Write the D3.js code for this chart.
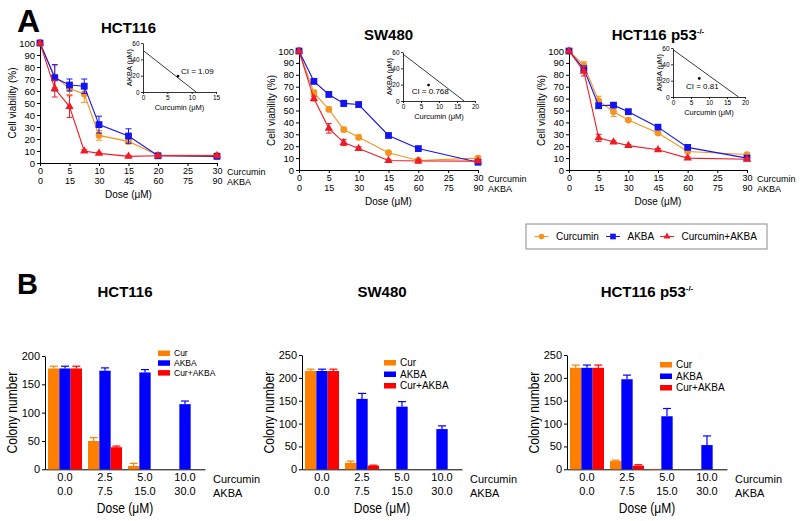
<!DOCTYPE html>
<html><head><meta charset="utf-8">
<script src="https://cdn.jsdelivr.net/npm/d3@7"></script>
<style>
body{margin:0;background:#fff}
svg{display:block}
text{font-family:"Liberation Sans",Arial,Helvetica,sans-serif;fill:#000}
</style>
</head><body><svg id="c" width="800" height="521"></svg>
<script>
// ---------------- DATA ----------------
const doseCur = [0, 2.5, 5, 7.5, 10, 15, 20, 30];
const curTicks = [0, 5, 10, 15, 20, 25, 30];
const akbaTicks = [0, 15, 30, 45, 60, 75, 90];
const viabTicks = [0, 10, 20, 30, 40, 50, 60, 70, 80, 90, 100];
const seriesNames = ["Curcumin", "AKBA", "Curcumin+AKBA"];

// Panel A: cell viability (%)
const hctCur = [100, 72, 62, 57.5, 23, 18, 6.5, 6.5];
const hctCurErr = [0, 9, 5, 7, 4, 2, 1, 1];
const hctAkba = [100, 71, 65, 64, 32, 22.5, 6, 5.5];
const hctAkbaErr = [0, 11, 5, 6, 7, 6, 1, 1];
const hctCombo = [100, 62, 47, 10, 8, 5.5, 6, 6];
const hctComboErr = [0, 7, 9, 1, 1, 1, 1, 1];

const swCur = [100, 65, 51, 34, 27.5, 14.5, 8, 10];
const swCurErr = [0, 2, 2, 2, 2, 1, 2, 1.5];
const swAkba = [100, 74.5, 63.5, 56, 55, 29, 18, 6.5];
const swAkbaErr = [0, 2, 2, 2.5, 2, 1, 1, 1];
const swCombo = [100, 60, 35, 23, 18, 8, 7.5, 7.5];
const swComboErr = [0, 2, 4, 2.5, 1.5, 1, 1.5, 1];

const p53Cur = [100, 88, 58, 49, 42, 31, 15.5, 13];
const p53CurErr = [0, 3, 4, 4, 1, 1, 1, 1];
const p53Akba = [100, 85, 54, 54.5, 49, 36, 19, 10];
const p53AkbaErr = [0, 2, 2, 1.5, 2, 1, 1, 1];
const p53Combo = [100, 83, 27, 23.5, 20.5, 17, 10, 9];
const p53ComboErr = [0, 4, 3, 1, 1, 1, 1, 1];

// Isobologram insets (Curcumin µM, AKBA µM)
const hctIsoLine = [[0, 51], [10.9, 0]];
const hctCIPoint = [7.2, 19.5];
const swIsoLine = [[0, 57.5], [17, 0]];
const swCIPoint = [7.1, 19.5];
const p53IsoLine = [[0, 58], [18.2, 0]];
const p53CIPoint = [7.3, 22.8];
const ciLabels = ["CI = 1.09", "CI = 0.768", "CI = 0.81"];
const isoTicksY = [0, 20, 40, 60];
const hctIsoTicksX = [0, 5, 10, 15];
const isoTicksX = [0, 5, 10, 15, 20];

// Panel B: colony number
const colCurLabels = ["0.0", "2.5", "5.0", "10.0"];
const colAkbaLabels = ["0.0", "7.5", "15.0", "30.0"];
const colSeries = ["Cur", "AKBA", "Cur+AKBA"];

const hctColCur = [178, 50, 6, 0];
const hctColCurErr = [4, 6, 4.5, 0];
const hctColAkba = [178, 174, 171, 115];
const hctColAkbaErr = [4, 5, 5, 5.5];
const hctColCombo = [178, 39, 0, 0];
const hctColComboErr = [4, 2, 0, 0];

const swColCur = [215, 14, 0, 0];
const swColCurErr = [4, 4, 0, 0];
const swColAkba = [215, 154, 137, 88];
const swColAkbaErr = [4, 12, 11, 7];
const swColCombo = [215, 8, 0, 0];
const swColComboErr = [4, 1, 0, 0];

const p53ColCur = [222, 18, 1, 0];
const p53ColCurErr = [6, 2, 0, 0];
const p53ColAkba = [222, 197, 116, 53];
const p53ColAkbaErr = [6, 9, 17, 20];
const p53ColCombo = [222, 8, 0, 0];
const p53ColComboErr = [6, 2, 0, 0];

// ---------------- STYLE ----------------
const lineColors = ["#F7941D", "#1414F0", "#EE1C24"];
const barColors = ["#FF8000", "#0000FF", "#FF0000"];
const shapes = [d3.symbolCircle, d3.symbolSquare, d3.symbolTriangle];
const shapeSizes = [36, 46, 30];

const svg = d3.select("#c");

function styleAxis(sel, fs) {
  sel.attr("font-family", null).attr("font-size", null);
  sel.selectAll("text").style("font-size", fs + "px").attr("fill", "#000");
  sel.selectAll("line").attr("stroke", "#000");
  sel.select(".domain").attr("stroke", "#000");
}

function titleText(g, x, y, label, sup) {
  const t = g.append("text").attr("x", x).attr("y", y).attr("text-anchor", "middle")
    .style("font-size", "15px").style("font-weight", "bold").text(label);
  if (sup) {
    t.append("tspan").attr("dy", -6).style("font-size", "8px").text(sup);
  }
}

// ---------------- PANEL A ----------------
function viabilityPanel(p) {
  const g = svg.append("g");
  const x = d3.scaleLinear().domain([0, 30]).range([p.x0, p.x1]);
  const y = d3.scaleLinear().domain([0, 100]).range([p.yb, p.yt]);

  const ya = g.append("g").attr("transform", `translate(${p.x0},0)`)
    .call(d3.axisLeft(y).tickValues(viabTicks).tickSize(3).tickSizeOuter(0).tickPadding(2));
  styleAxis(ya, 9.5);
  const xa = g.append("g").attr("transform", `translate(0,${p.yb})`)
    .call(d3.axisBottom(x).tickValues(curTicks).tickSize(3).tickSizeOuter(0).tickPadding(2));
  styleAxis(xa, 9);
  const xa2 = g.append("g").attr("transform", `translate(0,${p.yb + 10})`)
    .call(d3.axisBottom(x).tickValues(curTicks).tickSize(0).tickPadding(5)
      .tickFormat((d, i) => akbaTicks[i]));
  xa2.select(".domain").remove();
  styleAxis(xa2, 9);

  g.append("text").attr("x", p.x1 + 10).attr("y", p.yb + 11.5).style("font-size", "9px").text("Curcumin");
  g.append("text").attr("x", p.x1 + 10).attr("y", p.yb + 21.5).style("font-size", "9px").text("AKBA");
  g.append("text").attr("x", (p.x0 + p.x1) / 2).attr("y", p.yb + 35).attr("text-anchor", "middle")
    .style("font-size", "10px").text("Dose (\u03BCM)");
  g.append("text").attr("transform", `translate(${p.x0 - 24},${(p.yb + p.yt) / 2}) rotate(-90)`)
    .attr("text-anchor", "middle").style("font-size", "10px").text("Cell viability (%)");

  titleText(g, (p.x0 + p.x1) / 2, p.titleY, p.title, p.sup);

  const line = d3.line().x((d, i) => x(doseCur[i])).y(d => y(d));
  p.series.forEach((s, k) => {
    const c = lineColors[k];
    const sg = g.append("g");
    sg.append("path").datum(s.vals).attr("d", line).attr("fill", "none").attr("stroke", c).attr("stroke-width", 1.1);
    s.vals.forEach((v, i) => {
      const e = s.errs[i];
      if (e > 0) {
        const cx = x(doseCur[i]);
        sg.append("line").attr("x1", cx).attr("x2", cx).attr("y1", y(v - e)).attr("y2", y(v + e)).attr("stroke", c).attr("stroke-width", 1);
        [v - e, v + e].forEach(w => sg.append("line").attr("x1", cx - 3).attr("x2", cx + 3).attr("y1", y(w)).attr("y2", y(w)).attr("stroke", c).attr("stroke-width", 1));
      }
    });
    sg.selectAll("path.m").data(s.vals).enter().append("path").attr("class", "m")
      .attr("transform", (d, i) => `translate(${x(doseCur[i])},${y(d)})`)
      .attr("d", d3.symbol().type(shapes[k]).size(shapeSizes[k])).attr("fill", c);
  });

  // inset isobologram
  const ins = p.inset;
  const ix = d3.scaleLinear().domain([0, ins.xmax]).range([ins.x0, ins.x1]);
  const iy = d3.scaleLinear().domain([0, 60]).range([ins.yb, ins.yt]);
  const iya = g.append("g").attr("transform", `translate(${ins.x0},0)`)
    .call(d3.axisLeft(iy).tickValues(isoTicksY).tickSize(2).tickSizeOuter(0).tickPadding(1.5));
  styleAxis(iya, 6.5);
  iya.selectAll("line,path").attr("stroke-width", 0.8);
  const ixa = g.append("g").attr("transform", `translate(0,${ins.yb})`)
    .call(d3.axisBottom(ix).tickValues(ins.ticks).tickSize(2).tickSizeOuter(0).tickPadding(1.5));
  styleAxis(ixa, 6.5);
  ixa.selectAll("line,path").attr("stroke-width", 0.8);
  g.append("path").datum(ins.line).attr("d", d3.line().x(d => ix(d[0])).y(d => iy(d[1])))
    .attr("stroke", "#222").attr("stroke-width", 0.9).attr("fill", "none");
  g.append("circle").attr("cx", ix(ins.pt[0])).attr("cy", iy(ins.pt[1])).attr("r", 1.4).attr("fill", "#000");
  g.append("text").attr("x", ix(ins.lab[0])).attr("y", iy(ins.lab[1])).attr("dy", "0.35em")
    .style("font-size", "8px").text(ins.label);
  g.append("text").attr("x", (ins.x0 + ins.x1) / 2).attr("y", ins.yb + 18).attr("text-anchor", "middle")
    .style("font-size", "7.5px").text("Curcumin (\u03BCM)");
  g.append("text").attr("transform", `translate(${ins.x0 - 11},${(ins.yb + ins.yt) / 2}) rotate(-90)`)
    .attr("text-anchor", "middle").style("font-size", "7.5px").text("AKBA (\u03BCM)");
}

viabilityPanel({
  x0: 40, x1: 217, yb: 163, yt: 43, title: "HCT116", titleY: 33,
  series: [{vals: hctCur, errs: hctCurErr}, {vals: hctAkba, errs: hctAkbaErr}, {vals: hctCombo, errs: hctComboErr}],
  inset: {x0: 143, x1: 216, yb: 92, yt: 43, xmax: 15, ticks: hctIsoTicksX, line: hctIsoLine, pt: hctCIPoint, lab: [7.8, 25], label: ciLabels[0]}
});
viabilityPanel({
  x0: 299, x1: 478, yb: 170, yt: 51, title: "SW480", titleY: 40,
  series: [{vals: swCur, errs: swCurErr}, {vals: swAkba, errs: swAkbaErr}, {vals: swCombo, errs: swComboErr}],
  inset: {x0: 403, x1: 475, yb: 101, yt: 52, xmax: 20, ticks: isoTicksX, line: swIsoLine, pt: swCIPoint, lab: [2.4, 12.2], label: ciLabels[1]}
});
viabilityPanel({
  x0: 569, x1: 747, yb: 170, yt: 51, title: "HCT116 p53", sup: "-/-", titleY: 40,
  series: [{vals: p53Cur, errs: p53CurErr}, {vals: p53Akba, errs: p53AkbaErr}, {vals: p53Combo, errs: p53ComboErr}],
  inset: {x0: 673, x1: 745, yb: 97, yt: 48, xmax: 20, ticks: isoTicksX, line: p53IsoLine, pt: p53CIPoint, lab: [3.6, 13.5], label: ciLabels[2]}
});

// legend A
(function () {
  const lg = svg.append("g");
  lg.append("rect").attr("x", 526).attr("y", 224).attr("width", 241).attr("height", 25)
    .attr("fill", "#fff").attr("stroke", "#8a8a8a").attr("stroke-width", 1);
  const xs = [541.5, 613, 667];
  seriesNames.forEach((n, k) => {
    const cx = xs[k], cy = 236.5;
    lg.append("line").attr("x1", cx - 7).attr("x2", cx + 7).attr("y1", cy).attr("y2", cy).attr("stroke", lineColors[k]).attr("stroke-width", 1);
    lg.append("path").attr("transform", `translate(${cx},${cy})`).attr("d", d3.symbol().type(shapes[k]).size(shapeSizes[k] * 0.7)).attr("fill", lineColors[k]);
    lg.append("text").attr("x", cx + 14.5).attr("y", cy).attr("dy", "0.35em").style("font-size", "10px").text(n);
  });
})();

// ---------------- PANEL B ----------------
function colonyPanel(p) {
  const g = svg.append("g");
  const x0 = d3.scaleBand().domain(colCurLabels).range([p.x0, p.x1]).paddingInner(0.15).paddingOuter(0.075);
  const x1 = d3.scaleBand().domain(colSeries).range([0, x0.bandwidth()]);
  const y = d3.scaleLinear().domain([0, p.ymax]).range([469.3, p.yt]);

  const ya = g.append("g").attr("transform", `translate(${p.x0},0)`)
    .call(d3.axisLeft(y).tickValues(p.yticks).tickSize(3).tickSizeOuter(0).tickPadding(2));
  styleAxis(ya, 11);
  const xa = g.append("g").attr("transform", `translate(0,469.3)`)
    .call(d3.axisBottom(x0).tickSize(0).tickSizeOuter(0).tickPadding(4));
  styleAxis(xa, 11);
  const xa2 = g.append("g").attr("transform", `translate(0,483.3)`)
    .call(d3.axisBottom(x0).tickSize(0).tickPadding(4).tickFormat((d, i) => colAkbaLabels[i]));
  xa2.select(".domain").remove();
  styleAxis(xa2, 11);

  g.append("text").attr("x", p.x1 + 8).attr("y", 483).style("font-size", "11px").text("Curcumin");
  g.append("text").attr("x", p.x1 + 8).attr("y", 497).style("font-size", "11px").text("AKBA");
  g.append("text").attr("transform", `translate(${(p.x0 + p.x1) / 2},513) scale(0.86,1)`).attr("text-anchor", "middle")
    .style("font-size", "14px").text("Dose (\u03BCM)");
  g.append("text").attr("transform", `translate(${p.x0 - 28},${(469.3 + 356) / 2}) rotate(-90) scale(0.86,1)`)
    .attr("text-anchor", "middle").style("font-size", "14px").text("Colony number");

  titleText(g, (p.x0 + p.x1) / 2, 297, p.title, p.sup);

  p.series.forEach((s, k) => {
    const c = barColors[k];
    s.vals.forEach((v, i) => {
      if (v <= 0) return;
      const bx = x0(colCurLabels[i]) + x1(colSeries[k]);
      const bw = x1.bandwidth();
      g.append("rect").attr("x", bx).attr("y", y(v)).attr("width", bw).attr("height", y(0) - y(v)).attr("fill", c);
      const e = s.errs[i];
      if (e > 0) {
        const cx = bx + bw / 2;
        g.append("line").attr("x1", cx).attr("x2", cx).attr("y1", y(v)).attr("y2", y(v + e)).attr("stroke", c).attr("stroke-width", 1.2);
        g.append("line").attr("x1", cx - 4).attr("x2", cx + 4).attr("y1", y(v + e)).attr("y2", y(v + e)).attr("stroke", c).attr("stroke-width", 1.2);
      }
    });
  });

  // legend
  colSeries.forEach((n, k) => {
    const ly = p.legY + k * p.legStep;
    g.append("rect").attr("x", p.legX).attr("y", ly).attr("width", 12).attr("height", 5.5).attr("fill", barColors[k]);
    g.append("text").attr("x", p.legX + 16).attr("y", ly + 2.75).attr("dy", "0.35em").style("font-size", p.legFont + "px").text(n);
  });
}

colonyPanel({
  x0: 45, x1: 205, ymax: 200, yt: 356, yticks: [0, 50, 100, 150, 200], title: "HCT116",
  series: [{vals: hctColCur, errs: hctColCurErr}, {vals: hctColAkba, errs: hctColAkbaErr}, {vals: hctColCombo, errs: hctColComboErr}],
  legX: 158, legY: 350.5, legStep: 9.8, legFont: 8.5
});
colonyPanel({
  x0: 302, x1: 462, ymax: 250, yt: 355, yticks: [0, 50, 100, 150, 200, 250], title: "SW480",
  series: [{vals: swColCur, errs: swColCurErr}, {vals: swColAkba, errs: swColAkbaErr}, {vals: swColCombo, errs: swColComboErr}],
  legX: 384, legY: 360, legStep: 11.5, legFont: 10
});
colonyPanel({
  x0: 567, x1: 727, ymax: 250, yt: 355, yticks: [0, 50, 100, 150, 200, 250], title: "HCT116 p53", sup: "-/-",
  series: [{vals: p53ColCur, errs: p53ColCurErr}, {vals: p53ColAkba, errs: p53ColAkbaErr}, {vals: p53ColCombo, errs: p53ColComboErr}],
  legX: 660, legY: 362, legStep: 11.5, legFont: 10
});

// Panel letters
svg.append("text").attr("x", 17).attr("y", 32).style("font-size", "32px").style("font-weight", "bold").text("A");
svg.append("text").attr("x", 17).attr("y", 294).style("font-size", "29px").style("font-weight", "bold").text("B");
</script>
</body></html>
